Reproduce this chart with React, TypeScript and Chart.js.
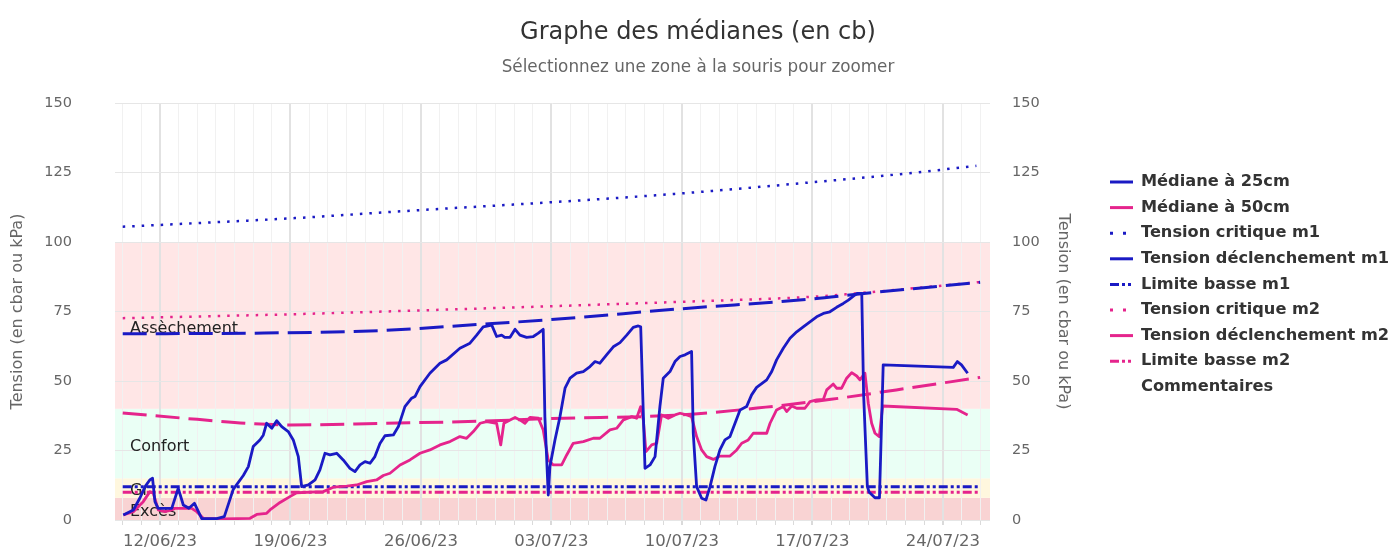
import React, { useEffect, useRef } from "react";
import { Chart, registerables } from "chart.js";

Chart.register(...registerables);
Chart.defaults.font.family = '"DejaVu Sans", sans-serif';

// ---------- DATA (x = days since 12/06/23, y = tension in cb) ----------
const med25Days = [
  -1.97, -1.43, -1.07, -0.8, -0.55, -0.4, -0.27, -0.1, 0.3, 0.63, 0.98, 1.25, 1.55, 1.85, 2.24, 3.04, 3.45,
  3.93, 4.47, 4.74, 5.0, 5.36, 5.54, 5.72, 6.0, 6.26, 6.53, 6.88, 7.15, 7.42, 7.6, 7.96, 8.32, 8.58, 8.85,
  9.12, 9.48, 9.83, 10.19, 10.46, 10.73, 11.0, 11.27, 11.53, 11.8, 12.07, 12.52, 12.79, 13.14, 13.5, 13.68,
  13.95, 14.48, 15.02, 15.38, 16.09, 16.63, 16.99, 17.34, 17.8, 18.06, 18.33, 18.5, 18.78, 19.05, 19.31,
  19.67, 20.03, 20.3, 20.56, 20.65, 20.83, 20.92, 21.19, 21.46, 21.73, 22.0, 22.35, 22.71, 23.07, 23.34,
  23.6, 23.96, 24.32, 24.68, 25.04, 25.39, 25.66, 25.79, 25.93, 26.02, 26.29, 26.56, 26.82, 27.0, 27.36,
  27.63, 27.9, 28.17, 28.52, 28.61, 28.79, 29.06, 29.29, 29.51, 29.77, 30.04, 30.31, 30.58, 30.85, 31.12,
  31.47, 31.74, 32.01, 32.55, 32.82, 33.08, 33.44, 33.8, 34.16, 34.51, 34.87, 35.23, 35.59, 35.94, 36.3,
  36.66, 36.93, 37.2, 37.4, 37.65, 37.75, 37.95, 38.05, 38.36, 38.6, 38.8, 42.56, 42.78, 43.0, 43.33,
];
const med25Values = [
  1.8, 3.6, 8, 12, 14.4, 15, 6.6, 4.2, 4.2, 4.2, 11.4, 5.4, 4.2, 6, 0.5, 0.5, 1.2,
  11, 16, 19.2, 26.4, 28.8, 30.5, 34.8, 33, 35.7, 33.6, 31.8, 28.8, 22.8, 12, 12.6, 14.4, 18, 24,
  23.4, 24, 21.6, 18.6, 17.4, 19.8, 21, 20.4, 22.8, 27.5, 30.3, 30.6, 33.6, 40.8, 43.8, 44.4,
  48, 52.8, 56.4, 57.6, 61.8, 63.6, 66.5, 69.5, 70.1, 66, 66.5, 65.7, 65.7, 68.6, 66.5,
  65.7, 66, 67.2, 68.6, 37, 9, 19.2, 28.8, 37.2, 47.4, 51, 52.8, 53.4, 55.2, 57,
  56.4, 59.4, 62.3, 63.8, 66.5, 69.3, 69.8, 69.5, 38.4, 18.6, 19.8, 22.8, 40.8, 51, 53.4,
  57, 58.8, 59.4, 60.6, 31.2, 12, 7.8, 7.2, 12, 19.2, 25.2, 28.8, 30, 34.8, 39.6,
  40.8, 45, 47.7, 50.4, 53.4, 57.6, 61.8, 65.4, 67.7, 69.5, 71.3, 73.1, 74.3, 74.9, 76.5,
  77.9, 79.1, 80.5, 81.5, 81.5, 45, 12, 10, 8, 8, 55.8, 54.9, 57, 55.8, 52.8,
];

const med50Days = [
  -1.97, -1.43, -0.9, -0.54, -0.36, -0.09, 0.27, 0.63, 0.8, 1.7, 1.97, 2.32, 3.4, 4.83, 5.19, 5.72, 5.9,
  6.44, 6.97, 7.33, 8.76, 9.3, 10.02, 10.55, 11.09, 11.62, 11.98, 12.34, 12.88, 13.41, 13.95, 14.48, 15.02,
  15.56, 16.09, 16.45, 16.81, 17.17, 17.53, 18.06, 18.28, 18.45, 18.78, 19.05, 19.31, 19.58, 19.85, 20.3,
  20.56, 20.83, 21.1, 21.55, 21.82, 22.17, 22.71, 23.25, 23.6, 24.14, 24.5, 24.86, 25.31, 25.57, 25.79,
  25.93, 26.07, 26.38, 26.65, 26.91, 27.27, 27.63, 27.9, 28.26, 28.52, 28.79, 29.06, 29.33, 29.69, 30.04,
  30.58, 30.94, 31.21, 31.56, 31.83, 32.55, 32.73, 33.08, 33.44, 33.62, 33.89, 34.16, 34.6, 34.87, 35.23,
  35.59, 35.77, 36.12, 36.3, 36.57, 36.84, 37.11, 37.38, 37.55, 37.82, 38.0, 38.18, 38.36, 38.59, 38.77,
  42.74, 43.33,
];
const med50Values = [
  1.8, 3, 6.6, 10.2, 9.6, 3.6, 3, 3.6, 4.2, 4.2, 3, 0.6, 0.4, 0.6, 2, 2.4, 3.6,
  6.3, 8.4, 9.8, 10.2, 11.8, 12.2, 12.6, 13.8, 14.4, 16, 16.8, 19.8, 21.6, 24, 25.2, 27,
  28.2, 30, 29.4, 31.8, 34.8, 35.4, 34.8, 27, 34.8, 36, 36.9, 36, 34.8, 36.9, 36.6,
  32.4, 21.6, 19.8, 19.8, 23.4, 27.6, 28.2, 29.4, 29.4, 32.4, 33, 36, 37.2, 36.6, 40.8,
  36, 24.6, 27, 27.6, 37.8, 36.6, 37.8, 38.4, 37.8, 37.2, 30, 25.2, 22.8, 21.8, 23,
  23, 25.2, 27.6, 28.8, 31.2, 31.2, 34.8, 39.6, 40.8, 39, 41, 40.2, 40.2, 42.6, 43.2,
  43.4, 46.8, 48.9, 47.4, 47.4, 51, 53, 51.8, 50.4, 52.8, 42, 34.8, 31.2, 30, 41,
  39.8, 37.8,
];

const critM1Days = [-2, 2, 7, 14, 21, 28, 35, 40, 43.8];
const critM1Values = [105.5, 106.8, 108.5, 111.5, 114.3, 117.5, 121.5, 124.6, 127.4];

const declM1Days = [-2, 5, 12, 17, 21, 28, 35, 37.5, 44];
const declM1Values = [67, 67.2, 68.2, 70.3, 72.1, 76, 79.5, 81.3, 85.5];

const limM1Days = [-2, 44];
const limM1Values = [12, 12];

const critM2Days = [-2, 7, 14, 21, 28, 35, 37.5, 44];
const critM2Values = [72.6, 74, 75.4, 76.9, 78.5, 80.3, 81.6, 85.6];

const declM2Days = [-2, 2, 5, 7, 12, 17, 21, 28, 32.5, 36, 39.5, 44];
const declM2Values = [38.5, 36.2, 34.6, 34.2, 34.8, 35.5, 36.5, 37.8, 40.6, 43.4, 46.8, 51.3];

const limM2Days = [-2, 44];
const limM2Values = [10, 10];

const xTickDays = [0, 7, 14, 21, 28, 35, 42];
const xTickLabels = ["12/06/23", "19/06/23", "26/06/23", "03/07/23", "10/07/23", "17/07/23", "24/07/23"];
const X_MIN = -2.414;
const X_MAX = 44.53;

const bandFrom = [0, 8, 15, 40];
const bandTo = [8, 15, 40, 100];
const bandLabels = ["Excès", "Gr", "Confort", "Assèchement"];
const bandColors = ["#f9d3d3", "#fff7de", "#eafff5", "#ffe6e6"];

const TITLE = "Graphe des médianes (en cb)";
const SUBTITLE = "Sélectionnez une zone à la souris pour zoomer";
const AXIS_TITLE = "Tension (en cbar ou kPa)";

const BLUE = "#1a1ac4";
const PINK = "#e5248c";
const FONT = '"DejaVu Sans", sans-serif';

const pts = (xs: number[], ys: number[]) => xs.map((x, i) => ({ x, y: ys[i] }));

const decorPlugin = {
  id: "decor",
  beforeDraw(chart: any) {
    const { ctx, chartArea: a, scales } = chart;
    const y = scales.y;
    ctx.save();
    bandFrom.forEach((f, i) => {
      const top = y.getPixelForValue(bandTo[i]);
      const bot = y.getPixelForValue(f);
      ctx.fillStyle = bandColors[i];
      ctx.fillRect(a.left, top, a.right - a.left, bot - top);
    });
    ctx.restore();
  },
  beforeDatasetsDraw(chart: any) {
    const { ctx, chartArea: a, scales } = chart;
    const y = scales.y;
    ctx.save();
    ctx.font = `16px ${FONT}`;
    ctx.fillStyle = "#222";
    ctx.textAlign = "left";
    ctx.textBaseline = "middle";
    bandFrom.forEach((f, i) => {
      const mid = (y.getPixelForValue(f) + y.getPixelForValue(bandTo[i])) / 2;
      ctx.fillText(bandLabels[i], a.left + 15, mid + 3);
    });
    ctx.restore();
  },
  afterDraw(chart: any) {
    const { ctx } = chart;
    ctx.save();
    ctx.textAlign = "center";
    ctx.textBaseline = "alphabetic";
    ctx.fillStyle = "#333";
    ctx.font = `24px ${FONT}`;
    ctx.fillText(TITLE, 698, 39);
    ctx.fillStyle = "#666";
    ctx.font = `16.8px ${FONT}`;
    ctx.fillText(SUBTITLE, 698, 72);

    // legend
    const x0 = 1110, x1 = 1133, tx = 1141, y0 = 182, dy = 25.6;
    ctx.textAlign = "left";
    ctx.textBaseline = "middle";
    chart.data.datasets.forEach((ds: any, i: number) => {
      const yy = y0 + i * dy;
      if (ds.data.length) {
        ctx.save();
        ctx.strokeStyle = ds.borderColor;
        ctx.lineWidth = 3;
        ctx.lineCap = "butt";
        const dash = ds.borderDash || [];
        ctx.setLineDash(dash.length === 2 && dash[0] < 4 ? [3, 10] : dash);
        ctx.beginPath();
        ctx.moveTo(x0, yy);
        ctx.lineTo(x1, yy);
        ctx.stroke();
        ctx.restore();
      }
      ctx.fillStyle = "#333";
      ctx.font = `bold 16.2px ${FONT}`;
      ctx.fillText(ds.label, tx, yy);
    });
    ctx.restore();
  },
};

export default function App() {
  const ref = useRef<HTMLCanvasElement | null>(null);

  useEffect(() => {
    document.body.style.margin = "0";
    if (!ref.current) return;
    const base = { pointRadius: 0, pointHoverRadius: 0, fill: false, yAxisID: "y" };
    const chart = new Chart(ref.current, {
      type: "line",
      data: {
        datasets: [
          { ...base, label: "Médiane à 25cm", data: pts(med25Days, med25Values), borderColor: BLUE, borderWidth: 2.8, borderJoinStyle: "round" },
          { ...base, label: "Médiane à 50cm", data: pts(med50Days, med50Values), borderColor: PINK, borderWidth: 2.8, borderJoinStyle: "round" },
          { ...base, label: "Tension critique m1", data: pts(critM1Days, critM1Values), borderColor: BLUE, borderWidth: 2.5, borderDash: [2.5, 7], cubicInterpolationMode: "monotone" },
          { ...base, label: "Tension déclenchement m1", data: pts(declM1Days, declM1Values), borderColor: BLUE, borderWidth: 3, borderDash: [24, 9], cubicInterpolationMode: "monotone" },
          { ...base, label: "Limite basse m1", data: pts(limM1Days, limM1Values), borderColor: BLUE, borderWidth: 3, borderDash: [9, 3, 3, 3, 3, 3] },
          { ...base, label: "Tension critique m2", data: pts(critM2Days, critM2Values), borderColor: PINK, borderWidth: 2.5, borderDash: [2.5, 7], cubicInterpolationMode: "monotone" },
          { ...base, label: "Tension déclenchement m2", data: pts(declM2Days, declM2Values), borderColor: PINK, borderWidth: 3, borderDash: [24, 9], cubicInterpolationMode: "monotone" },
          { ...base, label: "Limite basse m2", data: pts(limM2Days, limM2Values), borderColor: PINK, borderWidth: 3, borderDash: [9, 3, 3, 3, 3, 3] },
          { ...base, label: "Commentaires", data: [], borderColor: "#000" },
        ] as any,
      },
      options: {
        responsive: false,
        animation: false,
        events: [],
        layout: { padding: { top: 103, right: 324, bottom: 0, left: 0 } },
        plugins: { legend: { display: false }, title: { display: false }, tooltip: { enabled: false } },
        scales: {
          x: {
            type: "linear",
            min: X_MIN,
            max: X_MAX,
            bounds: "data",
            afterBuildTicks: (s: any) => {
              const t: any[] = [];
              for (let d = Math.ceil(X_MIN); d <= Math.floor(X_MAX); d++) t.push({ value: d });
              s.ticks = t;
            },
            ticks: {
              autoSkip: false,
              maxRotation: 0,
              minRotation: 0,
              padding: 7,
              color: "#666",
              font: { size: 16.5 },
              callback: (v: any) => {
                const i = xTickDays.indexOf(Number(v));
                return i >= 0 ? xTickLabels[i] : "";
              },
            },
            grid: {
              color: (c: any) => (c.tick && xTickDays.includes(c.tick.value) ? "#e2e2e2" : "#f1f1f1"),
              lineWidth: (c: any) => (c.tick && xTickDays.includes(c.tick.value) ? 2 : 1),
              tickLength: 5,
              tickColor: "#dadada",
            },
            border: { display: false },
            afterFit: (s: any) => {
              s.height = 28;
            },
          },
          y: {
            position: "left",
            min: 0,
            max: 150,
            ticks: { stepSize: 25, padding: 0, color: "#666", font: { size: 14.5 } },
            grid: { color: "#e6e6e6", drawTicks: true, tickLength: 43, tickColor: "rgba(0,0,0,0)" },
            border: { display: false },
            title: { display: true, text: AXIS_TITLE, color: "#666", font: { size: 16 }, padding: { top: 8.4, bottom: 0 } },
            afterFit: (s: any) => {
              s.width = 115;
            },
          },
          y2: {
            position: "right",
            min: 0,
            max: 150,
            ticks: { stepSize: 25, padding: 0, color: "#666", font: { size: 14.5 } },
            grid: { display: false, drawTicks: true, tickLength: 22 },
            border: { display: false },
            title: { display: true, text: AXIS_TITLE, color: "#666", font: { size: 16 }, padding: { top: 2.4, bottom: 0 } },
            afterFit: (s: any) => {
              s.width = 85;
            },
          },
        },
      } as any,
      plugins: [decorPlugin],
    });
    return () => chart.destroy();
  }, []);

  return (
    <div style={{ width: 1399, height: 548 }}>
      <canvas ref={ref} width={1399} height={548} style={{ display: "block" }} />
    </div>
  );
}
